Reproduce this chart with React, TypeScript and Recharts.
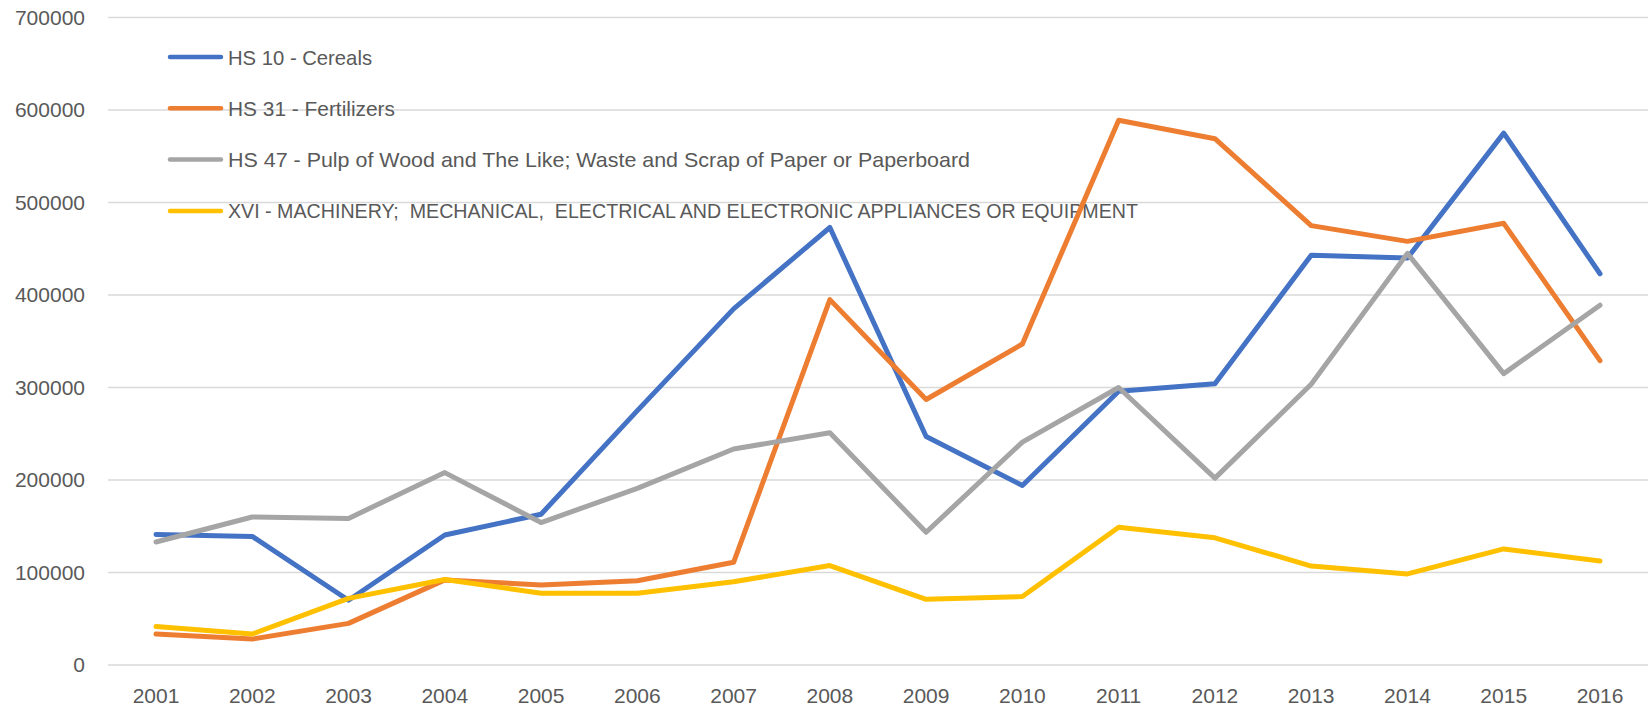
import { LineChart, Line, XAxis, YAxis, CartesianGrid, Customized } from 'recharts'

const years = ['2001', '2002', '2003', '2004', '2005', '2006', '2007', '2008', '2009', '2010', '2011', '2012', '2013', '2014', '2015', '2016']

const cereals = [141000, 139000, 70000, 140500, 163000, 275000, 385000, 473000, 247000, 194000, 296000, 304000, 443000, 440000, 575000, 423000]
const fertilizers = [33500, 28000, 45000, 92000, 86500, 91000, 111000, 395000, 287000, 347000, 589000, 569000, 475000, 458000, 477500, 329000]
const pulp = [133000, 160000, 158500, 208000, 154000, 191000, 233500, 251000, 143500, 241000, 300000, 202000, 303500, 445000, 315000, 389000]
const machinery = [41500, 33500, 72000, 92500, 77500, 77500, 90000, 107500, 71000, 74000, 149000, 137500, 107000, 98500, 125500, 112500]

const yTicks = [0, 100000, 200000, 300000, 400000, 500000, 600000, 700000]

const seriesNames = [
  'HS 10 - Cereals',
  'HS 31 - Fertilizers',
  'HS 47 - Pulp of Wood and The Like; Waste and Scrap of Paper or Paperboard',
  'XVI - MACHINERY;  MECHANICAL,  ELECTRICAL AND ELECTRONIC APPLIANCES OR EQUIPMENT',
]
const seriesKeys = ['cereals', 'fertilizers', 'pulp', 'machinery']
const colors = ['#4472C4', '#ED7D31', '#A5A5A5', '#FFC000']

const legendTextWidths = [144, 167, 742, 910]

const data = years.map((year, i) => ({
  year,
  cereals: cereals[i],
  fertilizers: fertilizers[i],
  pulp: pulp[i],
  machinery: machinery[i],
}))

const FONT = '"Liberation Sans", Arial, sans-serif'
const TEXT_COLOR = '#595959'

function LegendBlock() {
  return (
    <g>
      {seriesNames.map((name, i) => {
        const y = 57 + i * 51.3
        return (
          <g key={name}>
            <line
              x1={170}
              x2={221}
              y1={y}
              y2={y}
              stroke={colors[i]}
              strokeWidth={4.5}
              strokeLinecap="round"
            />
            <text
              x={228}
              y={y}
              dominantBaseline="central"
              fontSize={21}
              fontFamily={FONT}
              fill={TEXT_COLOR}
              textLength={legendTextWidths[i]}
              lengthAdjust="spacingAndGlyphs"
              style={{ whiteSpace: 'pre' }}
            >
              {name}
            </text>
          </g>
        )
      })}
    </g>
  )
}

export default function App() {
  return (
    <div style={{ position: 'absolute', left: 0, top: 0, background: '#fff' }}>
      <LineChart
        width={1648}
        height={708}
        data={data}
        margin={{ top: 17.5, right: 0, left: 0, bottom: 0 }}
      >
        <CartesianGrid stroke="#D9D9D9" strokeWidth={1.5} vertical={false} />
        <XAxis
          dataKey="year"
          axisLine={false}
          tickLine={false}
          tickSize={0}
          tickMargin={23}
          height={43}
          interval={0}
          padding={{ left: 48, right: 48 }}
          tick={{ fontSize: 21, fill: TEXT_COLOR, fontFamily: FONT }}
        />
        <YAxis
          domain={[0, 700000]}
          ticks={yTicks}
          axisLine={false}
          tickLine={false}
          tickSize={0}
          tickMargin={23}
          width={108}
          interval={0}
          tick={{ fontSize: 21, fill: TEXT_COLOR, fontFamily: FONT }}
        />
        <Customized component={LegendBlock} />
        {seriesKeys.map((key, i) => (
          <Line
            key={key}
            type="linear"
            dataKey={key}
            name={seriesNames[i]}
            stroke={colors[i]}
            strokeWidth={5}
            strokeLinejoin="round"
            strokeLinecap="round"
            dot={false}
            activeDot={false}
            isAnimationActive={false}
          />
        ))}
      </LineChart>
    </div>
  )
}
